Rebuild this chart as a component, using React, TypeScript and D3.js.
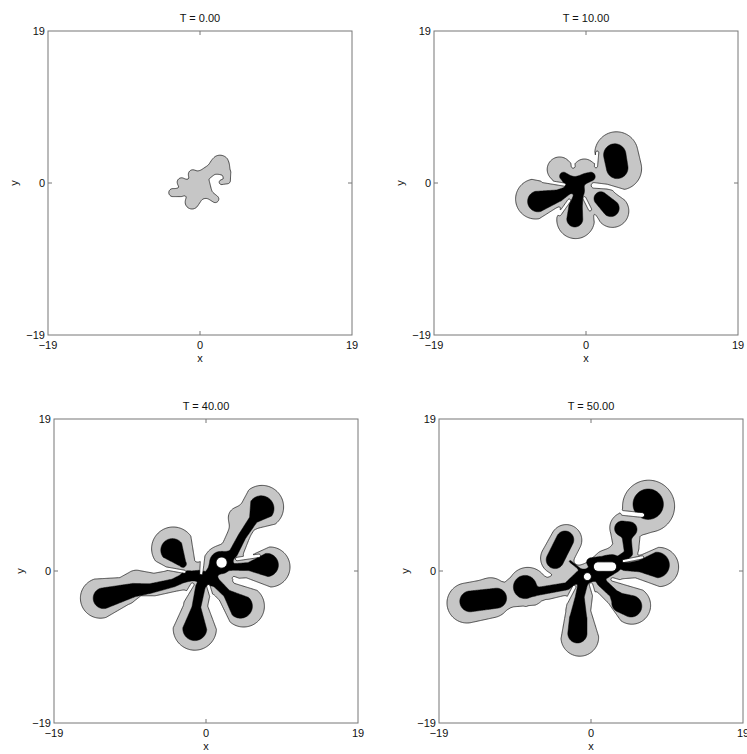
import React, { useMemo } from 'react';
import * as d3 from 'd3';

type Pt = [number, number, number];
type Shape = Pt[];

// ---- data: skeleton polylines [x, y, radius] in model units ----
const t0Grey: Shape[] = [
  [[0.0, -0.3, 1.0], [0.4, 0.9, 0.75], [1.5, 1.7, 0.7], [2.5, 2.3, 1.0]],
  [[2.5, 2.3, 1.0], [3.3, 1.3, 0.55], [3.4, 0.3, 0.4], [2.7, 0.1, 0.3]],
  [[0.0, -0.5, 1.0], [-1.2, -0.5, 0.65], [-2.3, 0.1, 0.55]],
  [[-1.2, -0.6, 0.6], [-2.4, -1.2, 0.5], [-3.4, -1.2, 0.5]],
  [[0.0, -0.5, 0.95], [-0.6, -1.8, 0.85], [-1.0, -2.4, 0.85]],
  [[0.3, -0.8, 0.75], [1.2, -1.5, 0.5], [1.9, -2.0, 0.45]],
  [[-0.3, 0.3, 0.75], [-0.9, 1.1, 0.55]],
];
const t0Black: Shape[] = [];
const t0Holes: Shape[] = [];

const t10Grey: Shape[] = [
  [[3.8, 3.7, 2.7], [4.3, 1.8, 2.65]],
  [[0.6, -0.6, 1.3], [1.5, -1.5, 1.45], [3.3, -3.5, 2.05]],
  [[-0.9, -1.6, 1.45], [-1.3, -4.6, 2.35]],
  [[-1.6, -0.7, 1.35], [-3.6, -1.5, 1.4], [-6.3, -2.0, 2.5]],
  [[-1.4, -0.2, 1.45], [-3.3, 1.7, 1.55]],
  [[-0.6, 0.0, 1.5], [-0.2, 1.6, 1.4]],
  [[0.5, 0.3, 1.25], [2.0, 0.9, 1.25]],
];
const t10Black: Shape[] = [
  [[3.6, 3.5, 1.4], [3.9, 1.9, 1.35]],
  [[1.85, -1.95, 0.85], [3.1, -3.15, 1.05]],
  [[-0.9, -1.4, 0.55], [-1.3, -3.0, 0.85], [-1.4, -4.5, 1.0]],
  [[-2.2, -0.9, 0.5], [-3.5, -1.6, 0.75], [-6.0, -2.3, 1.3]],
  [[-2.8, 0.85, 0.5], [-1.6, -0.2, 0.85], [-0.9, -0.8, 0.7]],
  [[-1.3, 0.0, 0.7], [0.0, 0.6, 0.62], [0.6, 0.8, 0.55]],
];
const t10Holes: Shape[] = [
  [[1.0, -0.3, 0.35], [2.6, -0.45, 0.3], [4.8, -1.0, 0.2]],
  [[-5.4, 0.25, 0.2], [-2.7, -0.2, 0.2]],
  [[-3.3, -3.9, 0.2], [-2.1, -2.2, 0.2]],
  [[0.5, -3.3, 0.2], [-0.2, -1.9, 0.2]],
  [[-1.8, 4.0, 0.25], [-1.6, 2.1, 0.25]],
  [[1.4, 3.8, 0.2], [1.25, 2.1, 0.2]],
];

const t40Grey: Shape[] = [
  [[7.0, 8.0, 2.7], [4.8, 6.3, 1.45], [4.0, 4.3, 1.4], [3.2, 2.4, 1.45], [1.6, 1.0, 1.5]],
  [[4.8, 6.3, 1.45], [4.1, 6.7, 1.3]],
  [[8.0, 0.5, 2.5], [5.0, 0.4, 1.25], [2.5, 0.3, 1.3]],
  [[4.7, -4.4, 2.6], [2.6, -2.6, 1.4], [1.2, -1.2, 1.35]],
  [[-1.4, -7.2, 2.7], [-1.3, -4.3, 1.5], [-0.6, -1.6, 1.35]],
  [[-4.1, 2.8, 2.7], [-2.4, 0.4, 1.25], [-1.0, -0.6, 1.2]],
  [[-13.2, -3.4, 2.5], [-10.2, -2.5, 1.75], [-8.7, -1.5, 1.6], [-6.5, -1.7, 1.4], [-4.0, -1.2, 1.35], [-1.5, -0.7, 1.4]],
  [[0.0, -0.8, 1.7], [1.8, 1.05, 2.05]],
];
const t40Black: Shape[] = [
  [[6.9, 7.8, 1.6], [5.9, 6.4, 0.55], [4.5, 4.3, 0.5], [3.4, 2.2, 0.55], [2.6, 1.6, 0.7]],
  [[7.6, 0.75, 1.45], [5.3, 0.55, 0.5], [3.3, 0.5, 0.4]],
  [[4.3, -4.4, 1.5], [2.6, -2.8, 0.5], [1.1, -1.3, 0.55]],
  [[-1.4, -7.2, 1.5], [-1.2, -4.5, 0.55], [-0.7, -2.0, 0.6]],
  [[-4.2, 2.6, 1.45], [-2.9, 0.9, 0.45]],
  [[-12.8, -3.4, 1.3], [-9.1, -2.4, 0.85], [-7.0, -2.2, 0.6], [-4.1, -1.5, 0.5], [-2.4, -0.7, 0.55]],
  [[-2.4, -0.6, 0.55], [-0.8, -0.6, 0.7], [0.3, -1.0, 0.85], [1.0, 0.2, 0.7]],
  [[1.85, 1.05, 1.4]],
];
const t40Holes: Shape[] = [
  [[1.95, 1.05, 0.7]],
  [[-5.2, 0.35, 0.2], [-2.7, -0.1, 0.2]],
  [[-0.3, 3.0, 0.3], [-0.6, -0.3, 0.2]],
  [[6.6, 1.9, 0.22], [3.9, 1.5, 0.22]],
  [[6.2, -1.9, 0.22], [3.5, -0.9, 0.22]],
  [[1.0, -4.2, 0.22], [0.3, -1.9, 0.22]],
  [[-3.2, -4.2, 0.22], [-1.7, -1.7, 0.22]],
];

const t50Grey: Shape[] = [
  [[7.2, 8.1, 3.25]],
  [[6.0, 6.0, 1.5], [4.3, 5.4, 1.95], [4.4, 3.0, 1.6], [3.2, 1.4, 1.55]],
  [[8.5, 0.5, 2.45], [5.5, 0.4, 1.25], [2.8, 0.3, 1.35]],
  [[5.1, -4.3, 2.35], [3.0, -2.8, 1.45], [1.3, -1.2, 1.35]],
  [[-1.4, -8.3, 2.35], [-1.6, -5.0, 1.55], [-1.2, -2.5, 1.45], [-0.5, -1.0, 1.35]],
  [[-3.1, 3.85, 1.95], [-4.3, 1.6, 2.0]],
  [[-3.4, 0.6, 0.9], [-1.2, -0.6, 0.9]],
  [[-15.5, -4.0, 2.5], [-12.5, -3.4, 2.45], [-10.3, -3.0, 1.6], [-7.9, -2.0, 2.45], [-5.5, -2.2, 1.35], [-3.0, -1.6, 1.35], [-0.5, -0.8, 1.45]],
  [[-12.6, -2.4, 1.3]],
  [[0.0, -0.6, 1.55], [2.0, 0.8, 1.85]],
];
const t50Black: Shape[] = [
  [[7.15, 8.35, 1.9]],
  [[3.9, 5.3, 0.95], [4.8, 5.2, 0.95]],
  [[4.5, 4.5, 0.6], [4.5, 3.9, 0.55], [4.7, 2.2, 0.5], [3.5, 1.3, 0.55], [2.2, 1.2, 0.6]],
  [[8.2, 0.75, 1.6], [6.0, 0.6, 0.7], [4.2, 0.5, 0.45]],
  [[5.0, -4.4, 1.35], [3.8, -4.0, 1.2], [2.8, -2.8, 0.55], [1.3, -1.4, 0.55]],
  [[-1.7, -7.8, 1.2], [-1.6, -6.0, 1.1], [-1.4, -3.2, 0.55], [-0.9, -1.1, 0.6]],
  [[-3.25, 3.9, 1.1], [-4.5, 1.4, 1.1]],
  [[-2.6, 1.2, 0.12], [-1.0, -0.1, 0.12]],
  [[-15.1, -3.8, 1.3], [-11.8, -3.4, 1.25]],
  [[-8.25, -2.0, 1.45]],
  [[-7.0, -2.6, 0.5], [-3.0, -1.9, 0.45], [-1.5, -0.6, 0.55]],
  [[-0.5, -0.6, 0.85], [0.5, -0.3, 0.95], [1.8, -0.1, 0.8], [3.0, 0.4, 0.6]],
  [[0.0, 1.1, 0.55], [2.6, 1.4, 0.6]],
];
const t50Holes: Shape[] = [
  [[0.9, 0.55, 0.6], [2.6, 0.55, 0.6]],
  [[-0.45, -0.7, 0.5]],
  [[4.0, 7.25, 0.3], [6.4, 7.0, 0.3]],
  [[6.4, 1.7, 0.2], [4.1, 1.25, 0.2]],
  [[5.6, -1.9, 0.22], [2.7, -1.05, 0.22]],
  [[0.6, -3.7, 0.22], [0.0, -1.7, 0.22]],
  [[-3.1, -3.9, 0.22], [-2.1, -2.0, 0.22]],
];

const titles = ['T = 0.00', 'T = 10.00', 'T = 40.00', 'T = 50.00'];
const domain: [number, number] = [-19, 19];
const tickValues = [-19, 0, 19];

// ---- layout ----
const W = 747;
const H = 754;
const SIZE = 304;
const layout = [
  { x: 48, y: 31 },
  { x: 434, y: 31 },
  { x: 54, y: 419 },
  { x: 439, y: 419 },
];
const panelData = [
  { grey: t0Grey, black: t0Black, holes: t0Holes },
  { grey: t10Grey, black: t10Black, holes: t10Holes },
  { grey: t40Grey, black: t40Black, holes: t40Holes },
  { grey: t50Grey, black: t50Black, holes: t50Holes },
];

const N = 340;

function smin(a: number, b: number, k: number) {
  const h = Math.max(k - Math.abs(a - b), 0) / k;
  return Math.min(a, b) - h * h * k * 0.25;
}

function shapeDist(s: Shape, px: number, py: number) {
  if (s.length === 1) {
    const [x, y, r] = s[0];
    return Math.hypot(px - x, py - y) - r;
  }
  let best = Infinity;
  for (let i = 0; i < s.length - 1; i++) {
    const [x0, y0, r0] = s[i];
    const [x1, y1, r1] = s[i + 1];
    const dx = x1 - x0, dy = y1 - y0;
    const l2 = dx * dx + dy * dy;
    let t = l2 > 0 ? ((px - x0) * dx + (py - y0) * dy) / l2 : 0;
    t = Math.max(0, Math.min(1, t));
    const d = Math.hypot(px - (x0 + t * dx), py - (y0 + t * dy)) - (r0 + t * (r1 - r0));
    if (d < best) best = d;
  }
  return best;
}

function field(shapes: Shape[], holes: Shape[], k: number) {
  const vals = new Float64Array(N * N);
  const step = (domain[1] - domain[0]) / N;
  for (let j = 0; j < N; j++) {
    const py = domain[1] - (j + 0.5) * step;
    for (let i = 0; i < N; i++) {
      const px = domain[0] + (i + 0.5) * step;
      let d = Infinity;
      for (const s of shapes) d = smin(d, shapeDist(s, px, py), k);
      for (const h of holes) d = Math.max(d, -shapeDist(h, px, py));
      vals[j * N + i] = -d;
    }
  }
  return vals;
}

function Panel({ idx }: { idx: number }) {
  const { x, y } = layout[idx];
  const data = panelData[idx];
  const sx = d3.scaleLinear().domain(domain).range([x, x + SIZE]);
  const sy = d3.scaleLinear().domain(domain).range([y + SIZE, y]);
  const paths = useMemo(() => {
    const step = (domain[1] - domain[0]) / N;
    const proj = d3.geoTransform({
      point(gx: number, gy: number) {
        (this as any).stream.point(sx(domain[0] + gx * step), sy(domain[1] - gy * step));
      },
    });
    const gp = d3.geoPath(proj);
    const cont = d3.contours().size([N, N]).thresholds([0]);
    const gVals = field(data.grey, data.holes, 0.7);
    const greyPath = gp(cont(Array.from(gVals))[0] as any) || '';
    let blackPath = '';
    if (data.black.length) {
      const bVals = field(data.black, data.holes, 0.5);
      blackPath = gp(cont(Array.from(bVals))[0] as any) || '';
    }
    return { greyPath, blackPath };
  }, [idx]);

  const font = { fontFamily: 'Liberation Sans, Arial, Helvetica, sans-serif', fontSize: 11, fill: '#111' };
  const tickLen = 4;
  return (
    <g>
      <rect x={x} y={y} width={SIZE} height={SIZE} fill="#fff" />
      <path d={paths.greyPath} fill="#c6c6c6" stroke="#222" strokeWidth={0.8} />
      {paths.blackPath && <path d={paths.blackPath} fill="#000" stroke="#000" strokeWidth={0.5} />}
      <rect x={x} y={y} width={SIZE} height={SIZE} fill="none" stroke="#777" strokeWidth={1} />
      {tickValues.filter((v) => v !== domain[0] && v !== domain[1]).map((v) => (
        <g key={'t' + v} stroke="#777" strokeWidth={1}>
          <line x1={sx(v)} x2={sx(v)} y1={y + SIZE} y2={y + SIZE - tickLen} />
          <line x1={sx(v)} x2={sx(v)} y1={y} y2={y + tickLen} />
          <line x1={x} x2={x + tickLen} y1={sy(v)} y2={sy(v)} />
          <line x1={x + SIZE} x2={x + SIZE - tickLen} y1={sy(v)} y2={sy(v)} />
        </g>
      ))}
      {tickValues.map((v) => (
        <text key={'xl' + v} x={sx(v)} y={y + SIZE + 14} textAnchor="middle" style={font}>
          {v < 0 ? '\u2212' + Math.abs(v) : String(v)}
        </text>
      ))}
      {tickValues.map((v) => (
        <text key={'yl' + v} x={x - 3} y={sy(v)} dy="0.35em" textAnchor="end" style={font}>
          {v < 0 ? '\u2212' + Math.abs(v) : String(v)}
        </text>
      ))}
      <text x={x + SIZE / 2} y={y + SIZE + 27} textAnchor="middle" style={font}>x</text>
      <text
        transform={`translate(${x - 30},${y + SIZE / 2}) rotate(-90)`}
        textAnchor="middle"
        style={font}
      >
        y
      </text>
      <text x={x + SIZE / 2} y={y - 9} textAnchor="middle" style={font}>{titles[idx]}</text>
    </g>
  );
}

export default function App() {
  return (
    <svg
      width={W}
      height={H}
      viewBox={`0 0 ${W} ${H}`}
      style={{ position: 'absolute', left: 0, top: 0, background: '#fff' }}
    >
      <rect x={0} y={0} width={W} height={H} fill="#fff" />
      {[0, 1, 2, 3].map((i) => (
        <Panel key={i} idx={i} />
      ))}
    </svg>
  );
}
